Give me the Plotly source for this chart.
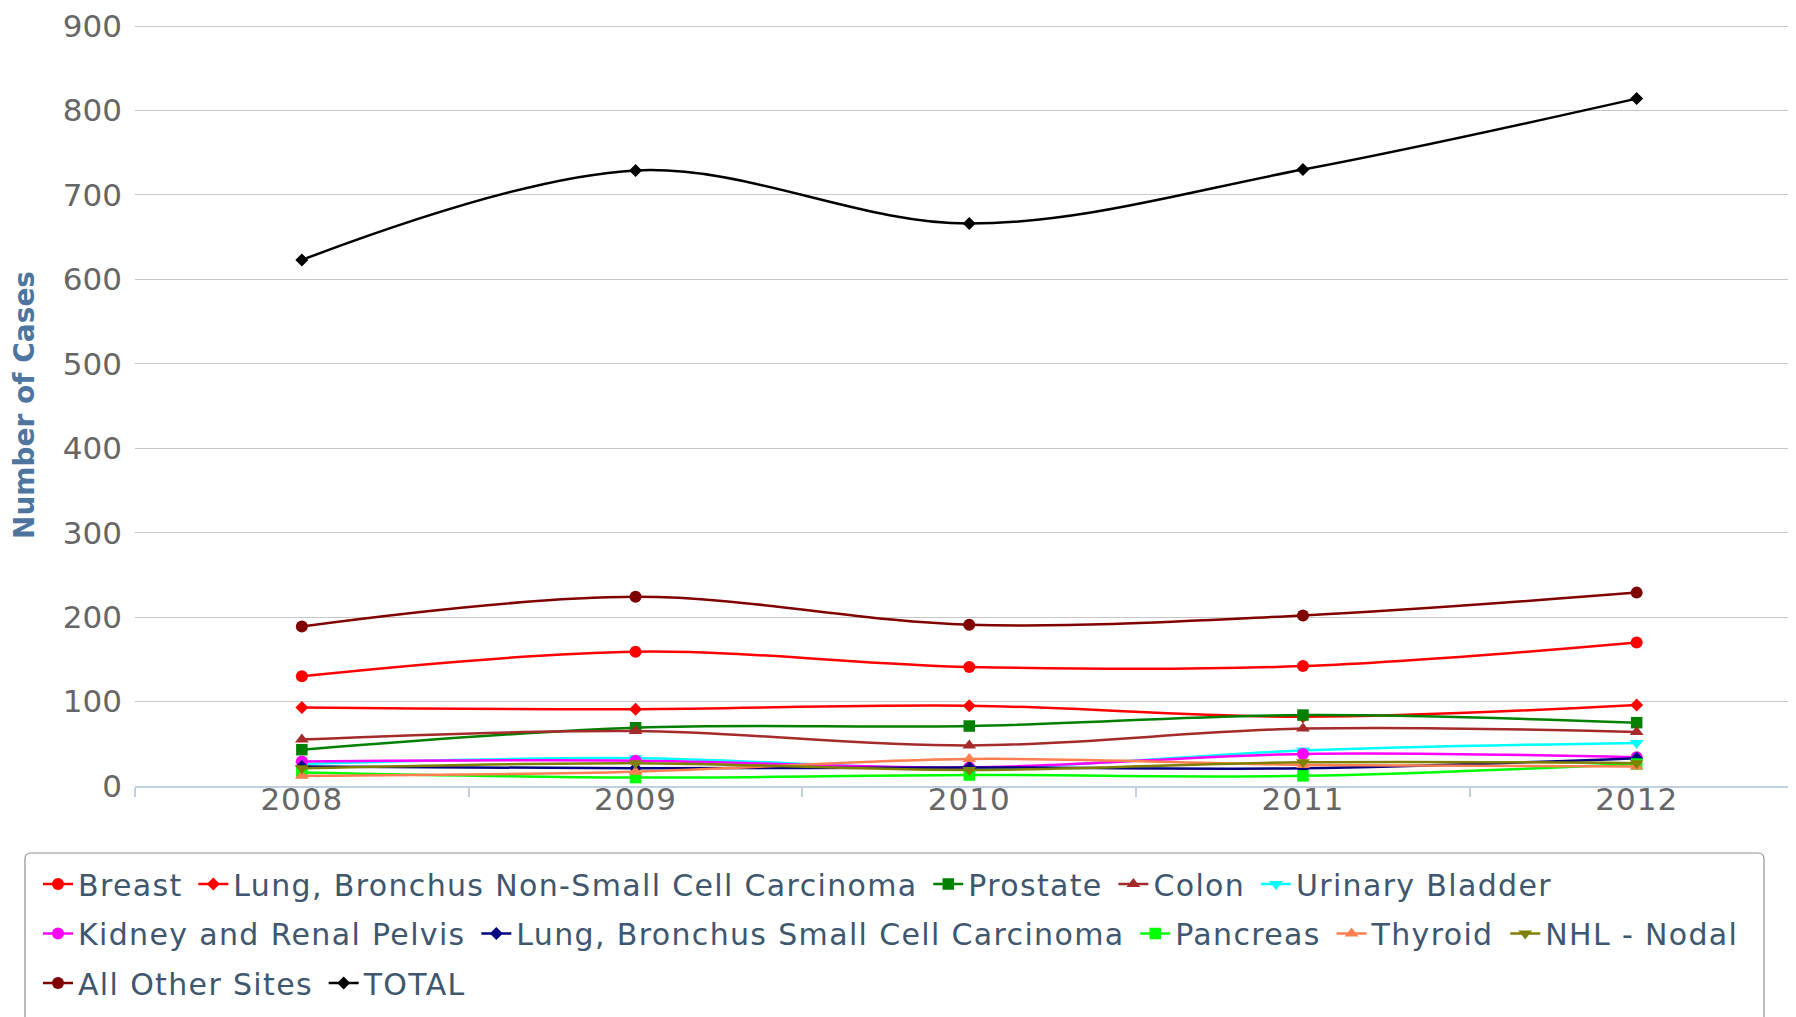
import plotly.graph_objects as go

years = ["2008", "2009", "2010", "2011", "2012"]

breast = [130, 159, 141, 142, 170]
lung_nsclc = [93, 91, 95, 82, 96]
prostate = [43, 69, 71, 84, 75]
colon = [55, 65, 48, 68, 64]
urinary_bladder = [26, 33, 21, 42, 51]
kidney = [29, 30, 22, 38, 34]
lung_sclc = [23, 21, 22, 21, 33]
pancreas = [16, 10, 13, 12, 26]
thyroid = [12, 17, 32, 25, 23]
nhl_nodal = [21, 27, 19, 28, 27]
all_other = [189, 224, 191, 202, 229]
total = [623, 729, 666, 730, 814]

series_names = [
    "Breast", "Lung, Bronchus Non-Small Cell Carcinoma", "Prostate", "Colon",
    "Urinary Bladder", "Kidney and Renal Pelvis", "Lung, Bronchus Small Cell Carcinoma",
    "Pancreas", "Thyroid", "NHL - Nodal", "All Other Sites", "TOTAL",
]
series_values = [
    breast, lung_nsclc, prostate, colon, urinary_bladder, kidney, lung_sclc,
    pancreas, thyroid, nhl_nodal, all_other, total,
]
series_colors = [
    "#FF0000", "#FF0000", "#008000", "#A52A2A", "#00FFFF", "#FF00FF", "#000080",
    "#00FF00", "#FF7F50", "#808000", "#800000", "#000000",
]
# legend row that each series sits in
legend_rows = ["legend", "legend", "legend", "legend", "legend",
               "legend2", "legend2", "legend2", "legend2", "legend2",
               "legend3", "legend3"]
symbols = ["circle", "diamond", "square", "triangle-up", "triangle-down"]
sym_size = {"circle": 12, "diamond": 10, "square": 11.5, "triangle-up": 12, "triangle-down": 12}

Y_MAX = 900
FONT = "DejaVu Sans"
PAGE_OFF = 8  # default body margin of the html page
W, H = 1796 - PAGE_OFF, 1017 - PAGE_OFF
ML, MR = 135 - PAGE_OFF, 0
MT = 24 - PAGE_OFF            # plot top sits 2px above the 900 gridline
MB = H - (786 - PAGE_OFF)
PW, PH = W - ML - MR, H - MT - MB
Y_TOP = Y_MAX + 2 / ((786 - 26) / Y_MAX)   # keeps 900 gridline 2px inside the plot


def sx(px):  # screen x pixel -> paper x
    return (px - PAGE_OFF - ML) / PW


def sy(py):  # screen y pixel -> paper y
    return (H - MB - (py - PAGE_OFF)) / PH


def legend_label(text):
    return (f'<span style="letter-spacing:1.35px">{text}</span>'
            f'<span style="font-size:18px">&nbsp;</span>')


fig = go.Figure()
for i, (name, vals, col, lg) in enumerate(zip(series_names, series_values, series_colors, legend_rows)):
    sym = symbols[i % len(symbols)]
    fig.add_trace(go.Scatter(
        x=years, y=vals, name=legend_label(name), legend=lg,
        mode="lines+markers",
        line=dict(color=col, width=2.5, shape="spline", smoothing=1),
        marker=dict(symbol=sym, size=sym_size[sym], color=col),
    ))

legend_common = dict(
    orientation="h", xanchor="left", yanchor="middle",
    borderwidth=0, bgcolor="rgba(0,0,0,0)",
    font=dict(family=FONT, size=30, color="#3E576F"),
    traceorder="normal",
)
lx = sx(38)

# rounded legend frame (bottom runs off the page as in the original)
bx0, bx1 = sx(25), sx(1764)
by0, by1 = sy(853), sy(1040)
rx, ry = 6 / PW, 6 / PH
frame_path = (
    f"M{bx0 + rx},{by0} L{bx1 - rx},{by0} Q{bx1},{by0} {bx1},{by0 - ry} "
    f"L{bx1},{by1 + ry} Q{bx1},{by1} {bx1 - rx},{by1} "
    f"L{bx0 + rx},{by1} Q{bx0},{by1} {bx0},{by1 + ry} "
    f"L{bx0},{by0 - ry} Q{bx0},{by0} {bx0 + rx},{by0} Z"
)

fig.update_layout(
    width=W, height=H,
    margin=dict(l=ML, r=MR, t=MT, b=MB, autoexpand=False),
    paper_bgcolor="white", plot_bgcolor="white",
    font=dict(family=FONT, color="#666666"),
    showlegend=True,
    legend=dict(x=lx, y=sy(884), **legend_common),
    legend2=dict(x=lx, y=sy(933.5), **legend_common),
    legend3=dict(x=lx, y=sy(983), **legend_common),
    shapes=[dict(type="path", xref="paper", yref="paper", path=frame_path,
                 line=dict(color="#909090", width=1.2), fillcolor="rgba(0,0,0,0)", layer="below")],
    xaxis=dict(
        type="category", range=[-0.5, 4.4775],
        tickmode="array", tickvals=years,
        ticktext=[f'<span style="letter-spacing:1px">{y}</span>' for y in years],
        showgrid=False, showline=True, linecolor="#C0D0E0", linewidth=1.5,
        ticks="outside", tickson="boundaries", ticklen=9, tickcolor="#C0D0E0", tickwidth=1.5,
        tickfont=dict(family=FONT, size=31, color="#666666"),
        ticklabelstandoff=-15,
        zeroline=False,
    ),
    yaxis=dict(
        range=[0, Y_TOP], dtick=100, tick0=0,
        showgrid=True, gridcolor="#C8C8C8", gridwidth=1.2,
        zeroline=False, showline=False, ticks="",
        tickfont=dict(family=FONT, size=31, color="#666666"),
        ticklabelstandoff=12, ticklabeloverflow="allow",
        title=dict(text="<b>Number of Cases</b>", font=dict(family=FONT, size=28, color="#4D759E"), standoff=26),
    ),
)

fig.write_html("out.html")
